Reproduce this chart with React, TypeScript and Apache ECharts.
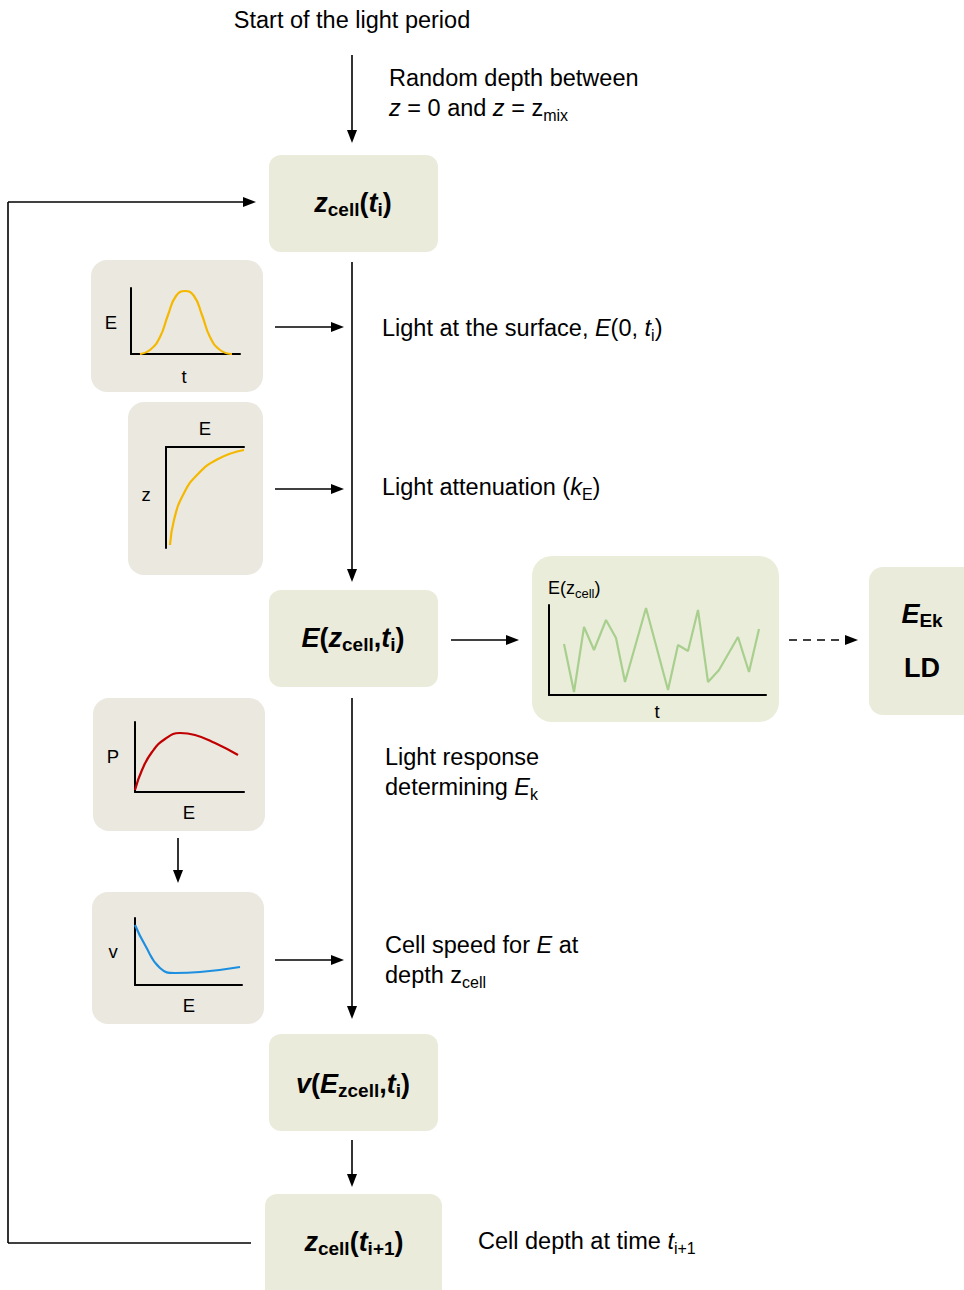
import React, { useEffect, useRef } from "react";
import * as echarts from "echarts";

const surfaceX = [9, 19, 29, 37, 45, 54, 63, 71, 79, 89, 101];
const surfaceY = [0, 4, 17, 39, 58, 63, 58, 39, 17, 4, 0];
const attenE = [4, 8, 17, 31, 52, 78];
const attenZ = [98, 73, 48, 28, 12, 3];
const seriesT = [15, 25, 35, 45, 57, 67, 76, 97, 119, 129, 139, 149, 159, 170, 189, 200, 210];
const seriesE = [51, 3, 68, 45, 75, 57, 13, 87, 5, 50, 44, 85, 13, 25, 58, 23, 66];
const respE = [0, 7, 17, 30, 45, 60, 80, 103];
const respP = [2, 22, 40, 53, 59, 57, 49, 37];
const speedE = [0, 10, 25, 40, 65, 105];
const speedV = [60, 40, 17, 12, 13, 18];

const FONT = "Liberation Sans, Arial, sans-serif";
const zip = (a: number[], b: number[]) => a.map((v, i) => [v, b[i]]);

function box(x: number, y: number, w: number, h: number, fill: string, r = 12) {
  return { type: "rect", shape: { x, y, width: w, height: h, r }, style: { fill } };
}
function line(x1: number, y1: number, x2: number, y2: number, dash?: number[]) {
  return { type: "line", shape: { x1, y1, x2, y2 }, style: { stroke: "#000", lineWidth: 1.6, lineDash: dash } };
}
function arrow(x1: number, y1: number, x2: number, y2: number, dash?: number[]) {
  const dx = x2 - x1, dy = y2 - y1, L = Math.hypot(dx, dy);
  const ux = dx / L, uy = dy / L, hl = 13, hw = 5;
  const bx = x2 - ux * hl, by = y2 - uy * hl;
  return [
    line(x1, y1, bx, by, dash),
    { type: "polygon", shape: { points: [[x2, y2], [bx - uy * hw, by + ux * hw], [bx + uy * hw, by - ux * hw]] }, style: { fill: "#000" } },
  ];
}
const base = { fontFamily: FONT, fill: "#000" };
const rich = {
  b: { ...base, fontSize: 27, fontWeight: "bold", fontStyle: "italic", lineHeight: 32 },
  bs: { ...base, fontSize: 19, fontWeight: "bold", lineHeight: 24, verticalAlign: "bottom" },
  bp: { ...base, fontSize: 27, fontWeight: "bold", lineHeight: 32 },
  n: { ...base, fontSize: 23.5, lineHeight: 30 },
  i: { ...base, fontSize: 23.5, fontStyle: "italic", lineHeight: 30 },
  s: { ...base, fontSize: 16, lineHeight: 22, verticalAlign: "bottom" },
  m: { ...base, fontSize: 18, lineHeight: 24 },
  ms: { ...base, fontSize: 13, lineHeight: 18, verticalAlign: "bottom" },
};
function txt(x: number, y: number, text: string, align = "left") {
  return { type: "text", x, y, style: { text, rich, align, verticalAlign: "middle", fontFamily: FONT, fontSize: 23.5, fill: "#000" } };
}
function lbl(x: number, y: number, text: string) {
  return { type: "text", x, y, style: { text, align: "center", verticalAlign: "middle", fontFamily: FONT, fontSize: 18.5, fill: "#000" } };
}

export default function App() {
  const ref = useRef<HTMLDivElement>(null);
  useEffect(() => {
    document.body.style.margin = "0";
    const chart = echarts.init(ref.current!, null, { renderer: "svg" });
    const grids = [
      { left: 131, top: 288, width: 109, height: 66 },
      { left: 166, top: 447, width: 78, height: 101 },
      { left: 549, top: 605, width: 217, height: 90 },
      { left: 135, top: 722, width: 109, height: 70 },
      { left: 135, top: 918, width: 107, height: 67 },
    ];
    const ax = (i: number, extra: any = {}) => ({
      type: "value", gridIndex: i, min: 0, axisTick: { show: false }, axisLabel: { show: false },
      splitLine: { show: false }, axisLine: { show: true, onZero: false, lineStyle: { color: "#000", width: 2 } }, ...extra,
    });
    const ser = (i: number, data: number[][], color: string, smooth: boolean) => ({
      type: "line", xAxisIndex: i, yAxisIndex: i, data, smooth, symbol: "none",
      lineStyle: { color, width: 2.2 }, silent: true,
    });
    const graphic: any[] = [
      box(269, 155, 169, 97, "#ebebdc"),
      box(91, 260, 172, 132, "#ebe8e0", 16),
      box(128, 402, 135, 173, "#ebe8e0", 16),
      box(269, 590, 169, 97, "#ebebdc"),
      box(532, 556, 247, 166, "#eaedda", 20),
      box(869, 567, 110, 148, "#ebebdc", 14),
      box(93, 698, 172, 133, "#ebe8e0", 16),
      box(92, 892, 172, 132, "#ebe8e0", 16),
      box(269, 1034, 169, 97, "#ebebdc"),
      box(265, 1194, 177, 110, "#ebebdc"),
      ...arrow(352, 55, 352, 143),
      ...arrow(352, 262, 352, 582),
      ...arrow(352, 698, 352, 1019),
      ...arrow(352, 1140, 352, 1187),
      ...arrow(275, 327, 344, 327),
      ...arrow(275, 489, 344, 489),
      ...arrow(275, 960, 344, 960),
      ...arrow(451, 640, 519, 640),
      ...arrow(789, 640, 858, 640, [8, 6]),
      ...arrow(178, 838, 178, 883),
      line(251, 1243, 8, 1243),
      line(8, 1243, 8, 202),
      ...arrow(8, 202, 256, 202),
      txt(352, 20, "{n|Start of the light period}", "center"),
      txt(389, 78, "{n|Random depth between}"),
      txt(389, 108, "{i|z}{n| = 0 and }{i|z}{n| = z}{s|mix}"),
      txt(353, 203, "{b|z}{bs|cell}{bp|(}{b|t}{bs|i}{bp|)}", "center"),
      txt(382, 328, "{n|Light at the surface, }{i|E}{n|(0, }{i|t}{s|i}{n|)}"),
      txt(382, 487, "{n|Light attenuation (}{i|k}{s|E}{n|)}"),
      txt(353, 638, "{b|E}{bp|(}{b|z}{bs|cell}{bp|,}{b|t}{bs|i}{bp|)}", "center"),
      txt(922, 614, "{b|E}{bs|Ek}", "center"),
      txt(922, 668, "{bp|LD}", "center"),
      txt(385, 757, "{n|Light response}"),
      txt(385, 787, "{n|determining }{i|E}{s|k}"),
      txt(385, 945, "{n|Cell speed for }{i|E}{n| at}"),
      txt(385, 975, "{n|depth z}{s|cell}"),
      txt(353, 1084, "{b|v}{bp|(}{b|E}{bs|zcell}{bp|,}{b|t}{bs|i}{bp|)}", "center"),
      txt(354, 1242, "{b|z}{bs|cell}{bp|(}{b|t}{bs|i+1}{bp|)}", "center"),
      txt(478, 1241, "{n|Cell depth at time }{i|t}{s|i+1}"),
      lbl(111, 322, "E"), lbl(184, 376, "t"),
      lbl(205, 428, "E"), lbl(146, 494, "z"),
      txt(548, 588, "{m|E(z}{ms|cell}{m|)}"), lbl(657, 711, "t"),
      lbl(113, 756, "P"), lbl(189, 812, "E"),
      lbl(113, 951, "v"), lbl(189, 1005, "E"),
    ];
    chart.setOption({
      animation: false,
      grid: grids,
      xAxis: [
        ax(0, { max: 109 }),
        ax(1, { max: 78, position: "top" }),
        ax(2, { max: 217 }),
        ax(3, { max: 109 }),
        ax(4, { max: 107 }),
      ],
      yAxis: [
        ax(0, { max: 66 }),
        ax(1, { max: 101, inverse: true }),
        ax(2, { max: 90 }),
        ax(3, { max: 70 }),
        ax(4, { max: 67 }),
      ],
      series: [
        ser(0, zip(surfaceX, surfaceY), "#f5b800", true),
        ser(1, zip(attenE, attenZ), "#f5b800", true),
        ser(2, zip(seriesT, seriesE), "#a8cf8e", false),
        ser(3, zip(respE, respP), "#c00000", true),
        ser(4, zip(speedE, speedV), "#1c8fe0", true),
      ],
      graphic,
    });
    return () => chart.dispose();
  }, []);
  return <div ref={ref} style={{ width: 964, height: 1290 }} />;
}
